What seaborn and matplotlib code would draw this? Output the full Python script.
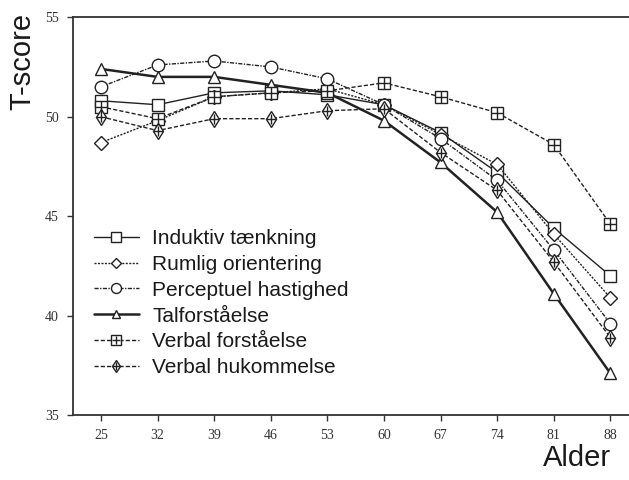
import matplotlib
matplotlib.use("Agg")
import matplotlib.pyplot as plt
import seaborn as sns
import pandas as pd
from matplotlib.lines import Line2D
from matplotlib.legend_handler import HandlerTuple

sns.set_style("white")
plt.rcParams['font.family'] = ['Liberation Sans', 'DejaVu Sans']

ages = [25, 32, 39, 46, 53, 60, 67, 74, 81, 88]
series_names = ["Induktiv tænkning", "Rumlig orientering", "Perceptuel hastighed",
                "Talforståelse", "Verbal forståelse", "Verbal hukommelse"]
induktiv = [50.8, 50.6, 51.2, 51.3, 51.1, 50.6, 49.2, 47.2, 44.4, 42.0]
rumlig = [48.7, 49.8, 51.0, 51.2, 51.4, 50.6, 49.1, 47.6, 44.1, 40.9]
perceptuel = [51.5, 52.6, 52.8, 52.5, 51.9, 50.6, 48.9, 46.8, 43.3, 39.6]
talforst = [52.4, 52.0, 52.0, 51.6, 51.2, 49.8, 47.7, 45.2, 41.1, 37.1]
verbal_forst = [50.5, 49.9, 51.0, 51.2, 51.3, 51.7, 51.0, 50.2, 48.6, 44.6]
verbal_huk = [50.0, 49.3, 49.9, 49.9, 50.3, 50.4, 48.2, 46.3, 42.7, 38.9]
y_ticks = [35, 40, 45, 50, 55]

values = [induktiv, rumlig, perceptuel, talforst, verbal_forst, verbal_huk]
styles = [
    dict(ls="-", lw=1.0, marker="s", ms=9, over=None),
    dict(ls=(0, (1.5, 1)), lw=1.0, marker="D", ms=7, over=None),
    dict(ls=(0, (3, 1, 1, 1)), lw=1.0, marker="o", ms=9, over=None),
    dict(ls="-", lw=1.8, marker="^", ms=8, over=None),
    dict(ls=(0, (3, 1.5)), lw=1.0, marker="s", ms=9, over="+"),
    dict(ls=(0, (3, 1.5)), lw=1.0, marker="d", ms=8, over="+"),
]

fig = plt.figure(figsize=(6.29, 4.80), dpi=100)
ax = fig.add_axes([0.116, 0.135, 0.884, 0.8292])

handles = []
for name, vals, st in zip(series_names, values, styles):
    df = pd.DataFrame({"Alder": ages, "T": vals})
    sns.lineplot(data=df, x="Alder", y="T", ax=ax, color="#222222",
                 linestyle=st["ls"], linewidth=st["lw"], marker=st["marker"],
                 markersize=st["ms"], markerfacecolor="white",
                 markeredgecolor="#222222", markeredgewidth=1.0, zorder=3)
    if st["over"]:
        sns.scatterplot(data=df, x="Alder", y="T", ax=ax, marker="+",
                        s=st["ms"] ** 2 * 0.8, color="#222222", linewidth=1.0,
                        zorder=4)
        h = (Line2D([], [], color="#222222", ls=st["ls"], lw=st["lw"],
                    marker=st["marker"], ms=st["ms"] * 0.8,
                    mfc="white", mec="#222222"),
             Line2D([], [], ls="none", marker="+", ms=st["ms"] * 0.7,
                    color="#222222"))
    else:
        h = Line2D([], [], color="#222222", ls=st["ls"], lw=st["lw"],
                   marker=st["marker"], ms=st["ms"] * 0.8,
                   mfc="white", mec="#222222")
    handles.append(h)

ax.set_xlim(21.54, 90.3)
ax.set_ylim(35, 55)
ax.set_xticks(ages)
ax.set_yticks(y_ticks)
ax.set_xticklabels([str(a) for a in ages], fontfamily="Liberation Serif",
                   fontsize=10, color="#333333")
ax.set_yticklabels([str(t) for t in y_ticks], fontfamily="Liberation Serif",
                   fontsize=10, color="#333333")
ax.tick_params(axis="both", direction="out", length=4, width=1.0,
               colors="#333333", bottom=True, left=True, pad=6)
ax.set_xlabel("")
ax.set_ylabel("")
for side in ["left", "bottom", "top"]:
    ax.spines[side].set_color("#333333")
    ax.spines[side].set_linewidth(1.3)
ax.spines["right"].set_visible(False)

leg = ax.legend(handles, series_names, loc="upper left",
                bbox_to_anchor=(0.004, 0.515), frameon=False, fontsize=15,
                handlelength=2.15, handletextpad=0.65, labelspacing=0.33,
                handler_map={tuple: HandlerTuple(ndivide=1, pad=0)})
for t in leg.get_texts():
    t.set_color("#1a1a1a")

fig.text(0.036, 0.873, "T-score", rotation=90, fontsize=21,
         ha="center", va="center", color="#1a1a1a")
fig.text(0.918, 0.045, "Alder", fontsize=21, ha="center", va="center",
         color="#1a1a1a")

fig.savefig("out.png", dpi=100, facecolor="white")
